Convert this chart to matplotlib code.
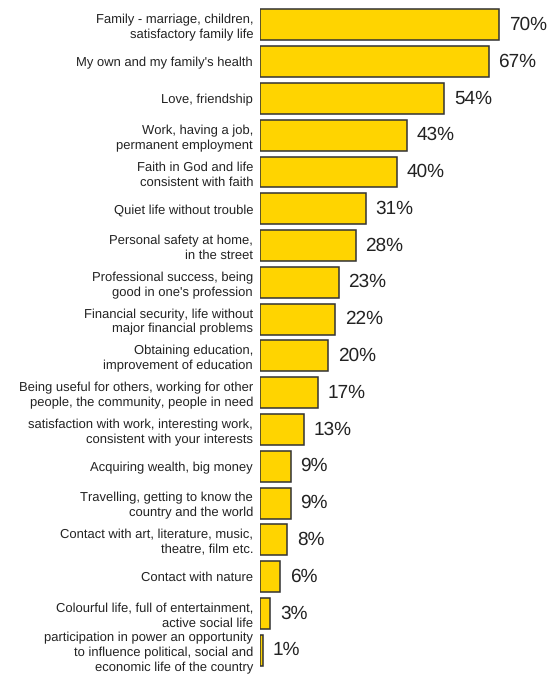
import matplotlib
matplotlib.use("Agg")
import matplotlib.pyplot as plt

categories = [
    "Family - marriage, children,\nsatisfactory family life",
    "My own and my family's health",
    "Love, friendship",
    "Work, having a job,\npermanent employment",
    "Faith in God and life\nconsistent with faith",
    "Quiet life without trouble",
    "Personal safety at home,\nin the street",
    "Professional success, being\ngood in one's profession",
    "Financial security, life without\nmajor financial problems",
    "Obtaining education,\nimprovement of education",
    "Being useful for others, working for other\npeople, the community, people in need",
    "satisfaction with work, interesting work,\nconsistent with your interests",
    "Acquiring wealth, big money",
    "Travelling, getting to know the\ncountry and the world",
    "Contact with art, literature, music,\ntheatre, film etc.",
    "Contact with nature",
    "Colourful life, full of entertainment,\nactive social life",
    "participation in power an opportunity\nto influence political, social and\neconomic life of the country",
]
values = [70, 67, 54, 43, 40, 31, 28, 23, 22, 20, 17, 13, 9, 9, 8, 6, 3, 1]

plt.rcParams['font.family'] = ['Liberation Sans', 'DejaVu Sans']
plt.rcParams['text.hinting'] = 'no_hinting'
plt.rcParams['text.hinting_factor'] = 1

fig = plt.figure(figsize=(5.55, 6.77), dpi=100)
ax = fig.add_axes([260 / 555, 0.0124, 295 / 555, 0.978])

y = list(range(len(values)))
ax.barh(y, values, height=0.84, color="#FFD400", edgecolor="#333333", linewidth=1.1)
ax.set_ylim(len(values) - 0.5, -0.5)
ax.set_xlim(0, 295 / 3.414)

for yi, v in zip(y, values):
    ax.text(v + 2.8, yi, f"{v}%", va="center", ha="left", fontsize=13.5, color="#222222")

ax.set_yticks(y)
ax.set_yticklabels(categories, fontsize=9.5, color="#222222", linespacing=1.3)
ax.tick_params(axis="y", length=0, pad=5)
ax.set_xticks([])
for s in ax.spines.values():
    s.set_visible(False)

fig.savefig("out.png", dpi=100)
